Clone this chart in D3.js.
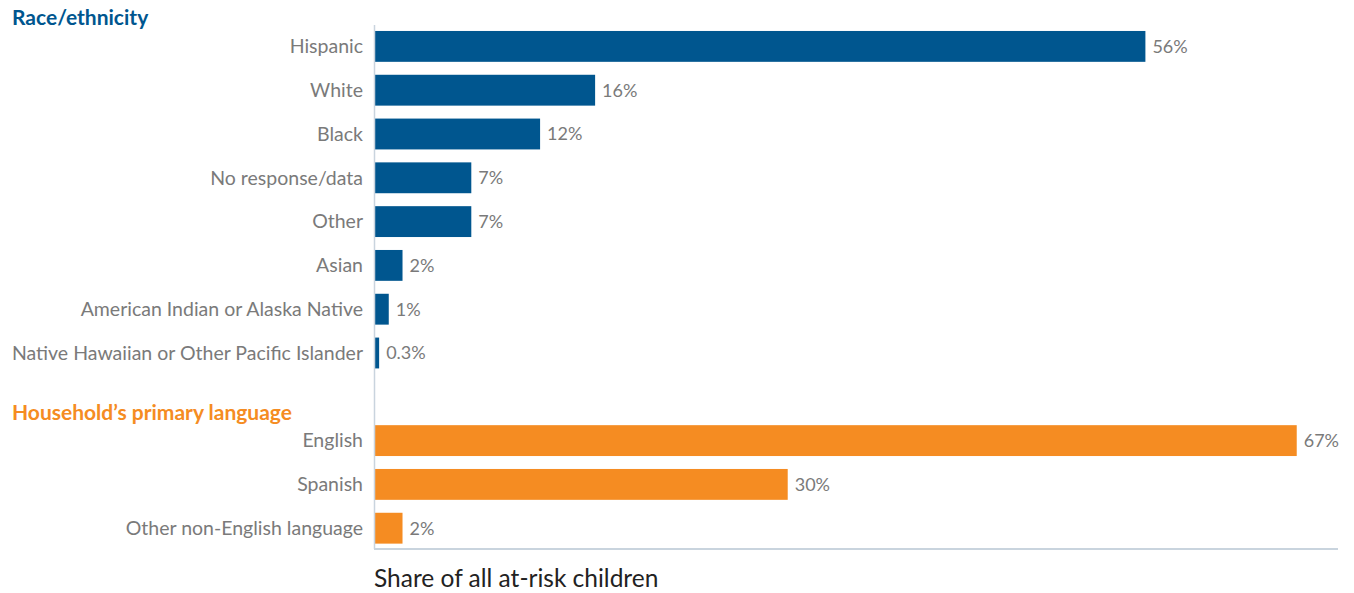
<!DOCTYPE html>
<html>
<head>
<meta charset="utf-8">
<script src="https://cdn.jsdelivr.net/npm/d3@7"></script>
<style>
  body { margin: 0; background: #fff; }
  svg { font-family: Lato, "Open Sans", sans-serif; }
</style>
</head>
<body>
<svg width="1354" height="593"></svg>
<script>
var svg = d3.select('svg');

// race / ethnicity group
var raceLabels = ['Hispanic', 'White', 'Black', 'No response/data', 'Other', 'Asian',
    'American Indian or Alaska Native', 'Native Hawaiian or Other Pacific Islander'];
var raceValues = [56, 16, 12, 7, 7, 2, 1, 0.3];
var raceText = ['56%', '16%', '12%', '7%', '7%', '2%', '1%', '0.3%'];

// language group
var langLabels = ['English', 'Spanish', 'Other non-English language'];
var langValues = [67, 30, 2];
var langText = ['67%', '30%', '2%'];

var groupTitles = ['Race/ethnicity', 'Household\u2019s primary language'];
var axisTitle = 'Share of all at-risk children';

var blue = '#00568f', orange = '#f58c22';

// one list of rows, blank row between the groups
var rows = [];
raceLabels.forEach(function (d, i) {
    rows.push({key: 'r' + i, label: d, value: raceValues[i], text: raceText[i], color: blue});
});
rows.push({key: 'gap', label: null});
langLabels.forEach(function (d, i) {
    rows.push({key: 'l' + i, label: d, value: langValues[i], text: langText[i], color: orange});
});

var step = 43.8;
var x = d3.scaleLinear().domain([0, 70]).range([375, 1338]);
var y = d3.scaleBand()
    .domain(rows.map(function (d) { return d.key; }))
    .range([31 - 6.5, 31 - 6.5 + step * rows.length])
    .paddingInner(13 / 44)
    .paddingOuter(13 / 88);

var bars = rows.filter(function (d) { return d.label !== null; });

svg.selectAll('rect.bar')
    .data(bars)
    .enter()
    .append('rect')
    .attr('class', 'bar')
    .attr('x', x(0))
    .attr('y', function (d) { return y(d.key); })
    .attr('width', function (d) { return x(d.value) - x(0); })
    .attr('height', y.bandwidth())
    .attr('fill', function (d) { return d.color; });

// category labels
svg.selectAll('text.cat')
    .data(bars)
    .enter()
    .append('text')
    .attr('class', 'cat')
    .attr('x', 363)
    .attr('y', function (d) { return y(d.key) + y.bandwidth() / 2; })
    .attr('dy', '0.35em')
    .attr('text-anchor', 'end')
    .attr('font-size', 19.5)
    .attr('fill', '#7a7a7a')
    .text(function (d) { return d.label; });

// value labels
svg.selectAll('text.val')
    .data(bars)
    .enter()
    .append('text')
    .attr('class', 'val')
    .attr('x', function (d) { return x(d.value) + 7; })
    .attr('y', function (d) { return y(d.key) + y.bandwidth() / 2; })
    .attr('dy', '0.35em')
    .attr('font-size', 18)
    .attr('fill', '#7a7a7a')
    .text(function (d) { return d.text; });

// group headers
svg.append('text')
    .attr('x', 12)
    .attr('y', y('r0') - 6)
    .attr('font-size', 21)
    .attr('font-weight', 'bold')
    .attr('fill', blue)
    .text(groupTitles[0]);

svg.append('text')
    .attr('x', 12)
    .attr('y', y('l0') - 5)
    .attr('font-size', 21)
    .attr('font-weight', 'bold')
    .attr('fill', orange)
    .text(groupTitles[1]);

// axis lines
var bottom = 549;
svg.append('line')
    .attr('x1', x(0) - 0.5).attr('x2', x(0) - 0.5)
    .attr('y1', 25).attr('y2', bottom)
    .attr('stroke', '#c9d4de').attr('stroke-width', 1.5);
svg.append('line')
    .attr('x1', x(0) - 1).attr('x2', x(70))
    .attr('y1', bottom).attr('y2', bottom)
    .attr('stroke', '#c9d4de').attr('stroke-width', 2);

svg.append('text')
    .attr('x', 374)
    .attr('y', 587)
    .attr('font-size', 24.5)
    .attr('fill', '#222')
    .text(axisTitle);
</script>
</body>
</html>
